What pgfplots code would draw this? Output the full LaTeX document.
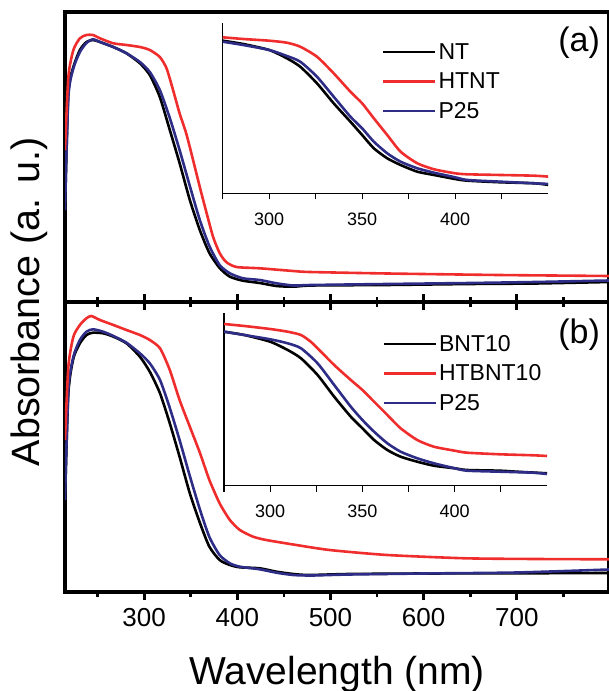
\documentclass[border=0pt]{standalone}
\usepackage{pgfplots}
\pgfplotsset{compat=1.18}
\usepackage{fontspec}
\setmainfont{Liberation Sans}
\definecolor{cred}{RGB}{240,45,45}
\definecolor{cblue}{RGB}{45,45,135}
\pgfplotsset{
  mainax/.style={scale only axis, width=544pt, height=290pt,
    xmin=215, xmax=799, ymin=0, ymax=290,
    ytick=\empty, axis line style={line width=3.2pt},
    xtick={300,400,500,600,700}, minor xtick={250,350,450,550,650,750},
    major tick length=16pt, minor tick length=10pt,
    every tick/.style={line width=2.8pt, black},
    /pgf/number format/assume math mode=true,
    tick label style={font=\fontsize{26}{28}\selectfont},
    clip mode=individual},
  inax/.style={scale only axis, xmin=275, xmax=450, ymin=0,
    axis x line*=bottom, axis y line*=left, ytick=\empty,
    axis line style={line width=1.1pt, -},
    xtick={300,350,400}, minor xtick={275,325,375,425},
    major tick length=6pt, minor tick length=6pt, tick align=outside,
    every tick/.style={line width=1.1pt, black},
    /pgf/number format/assume math mode=true,
    tick label style={font=\fontsize{18}{20}\selectfont},
    xticklabel style={yshift=-10pt},
    legend cell align=left,
    legend image code/.code={\draw[##1, line width=2.6pt] (0pt,0pt) -- (52pt,0pt);},
    legend style={draw=none, fill=none, inner sep=0pt, row sep=10pt,
      font=\fontsize{23}{26}\selectfont, anchor=north west,
      nodes={inner xsep=2pt, inner ysep=1pt}},
    clip mode=individual},
  cv/.style={line width=2.6pt, smooth, tension=0.4},
}
\begin{document}
\begin{tikzpicture}
% ---------------- panel (b) ----------------
\begin{axis}[mainax, at={(65pt,99pt)}, anchor=south west,
  tick align=outside, xtick pos=bottom,
  major tick length=8pt, minor tick length=5pt,
  xticklabel style={yshift=-5pt},
  xlabel={Wavelength (nm)},
  xlabel style={font=\fontsize{39}{42}\selectfont, yshift=-22pt}]
\addplot[cv, black] coordinates {
(215,92) (218.6,198.7) (224,233.7) (231,248.7) (238,257) (245,259.3) (256,258.7) (267,255.3) (281,248.7) (295.4,235.3) (306,220.3) (317,198.7) (327.5,168.7) (338,135.3) (349,98.7) (360,68.7) (370,45.3) (381,32) (392,27) (402.7,24.7) (424,23.7) (442,20.3) (460,18) (477,17) (520,18) (600,18.5) (700,18.7) (799,19)};
\addplot[cv, cblue] coordinates {
(215,92) (218.6,202) (224,235.3) (231,252) (238,260.3) (245,262.7) (256,260.3) (267,256) (281,249.3) (295.4,238.7) (306,228.7) (317,212) (327.5,184) (338,152) (349,116) (360,82) (370,55) (381,37) (392,28.7) (402.7,25.3) (424,22.7) (442,19.3) (460,17) (480,16.5) (520,17.5) (600,18.5) (700,19.5) (799,22.5)};
\addplot[cv, cred] coordinates {
(215,152) (218.6,225.3) (224,255.3) (231,267) (238,273.7) (243.3,276) (252.5,272) (267,267) (281,262) (295.4,257) (306,252) (317,243.7) (327.5,222) (338,192) (349,165.3) (360,138.7) (370,112) (381,88.7) (392,72) (402.7,62) (417,55.3) (431,52) (460,47.5) (499,42) (561,37) (645,33.7) (720,33) (799,32.7)};
\node[font=\fontsize{34}{36}\selectfont] at (rel axis cs:0.945,0.886) {(b)};
\node[rotate=90, font=\fontsize{39.5}{42}\selectfont] at (rel axis cs:-0.066,1.0) {Absorbance (a. u.)};
\end{axis}
% ---------------- panel (a) ----------------
\begin{axis}[mainax, at={(65pt,389pt)}, anchor=south west,
  tick align=center, xtick pos=bottom, xticklabels={}]
\addplot[cv, black] coordinates {
(215,92) (218.6,209) (224,235) (231,252) (238,260) (245,262) (252.5,260) (266.8,255) (281,248.7) (295.4,238.7) (306,227) (316.8,205) (327.5,172) (338,139) (349,102) (359.7,72) (370,49) (381,34) (392,25.3) (406,21.3) (424,19) (442,16) (460,15.3) (480,16.5) (560,17) (650,18) (720,18.5) (799,20)};
\addplot[cv, cblue] coordinates {
(215,92) (218.6,205) (224,233.7) (231,250) (238,259) (245,262.7) (252.5,260) (266.8,255) (281,248.7) (295.4,240) (306,230) (316.8,212) (327.5,184) (338,152) (349,116) (359.7,82) (370,56) (381,37) (392,28.7) (406,23.7) (424,22) (442,18.7) (460,16.5) (480,17) (561,18) (650,19) (720,20) (799,21.5)};
\addplot[cv, cred] coordinates {
(215,152) (218.6,225) (224,252) (231,263.7) (238,267) (245,267) (252.5,263.7) (266.8,258.7) (281,257) (295.4,255) (306,252) (316.8,245) (324,233.7) (331,212) (338,188.7) (345,169) (352.5,142) (359.7,115) (367,89) (374,65) (381,49) (388,40) (399,35) (424,33.7) (460,31) (478,30) (561,28.5) (680,27) (799,26)};
\node[font=\fontsize{34}{36}\selectfont] at (rel axis cs:0.945,0.893) {(a)};
\end{axis}
% ---------------- inset (a) ----------------
\begin{axis}[inax, at={(222.7pt,497.7pt)}, anchor=south west,
  width=325.3pt, height=170.6pt, ymax=170.6,
  legend style={at={(rel axis cs:0.489,0.885)}}]
\addplot[cv, black] coordinates {
(275,152.6) (286,149.3) (300,143.3) (309.5,135) (316.7,126.6) (325.7,110) (334.7,90) (343.7,71.6) (350,58.3) (356.3,45) (363.5,35) (370.7,28.3) (379.7,21.6) (388.7,18.3) (400,14.3) (406.7,12.6) (424.6,11) (442.6,10) (450.7,8.3)};
\addlegendentry{NT}
\addplot[cv, cred] coordinates {
(275,156) (286,154.3) (300,152.6) (309.5,150.6) (316.7,146.6) (325.7,136.6) (334.7,120) (343.7,101.6) (350,90) (356.3,75) (363.5,58.3) (370.7,41.6) (379.7,30) (388.7,24) (400,20) (406.7,19) (424.6,18.3) (442.6,17.6) (450.7,16.6)};
\addlegendentry{HTNT}
\addplot[cv, cblue] coordinates {
(275,151.6) (286,148.3) (300,143.3) (309.5,137.3) (316.7,131.6) (325.7,116.6) (334.7,96.6) (343.7,76.6) (350,65) (356.3,51.6) (363.5,40) (370.7,31.6) (379.7,25) (388.7,20.6) (400,16) (406.7,13.3) (424.6,11.6) (442.6,10) (450.7,9.3)};
\addlegendentry{P25}
\end{axis}
% ---------------- inset (b) ----------------
\begin{axis}[inax, at={(224pt,205.3pt)}, anchor=south west,
  width=323pt, height=172.4pt, ymax=172.4,
  legend style={at={(rel axis cs:0.49,0.88)}}]
\addplot[cv, black] coordinates {
(275,154) (286,150.7) (300,144) (309.5,135.7) (316.7,127.4) (325.7,110.7) (334.7,89) (343.7,69) (350,57.4) (356.3,45.7) (363.5,35.7) (370.7,29) (379.7,24) (388.7,20) (400,17.4) (406.7,15.7) (424.6,15) (433.6,14) (450,12.4)};
\addlegendentry{BNT10}
\addplot[cv, cred] coordinates {
(275,161.7) (286,159.7) (300,156.7) (309.5,154) (316.7,150.7) (322,144) (325.7,137.4) (334.7,120.7) (343.7,105.7) (350,95.7) (356.3,84) (363.5,70.7) (370.7,57.4) (379.7,45.7) (388.7,39) (400,35) (406.7,33) (424.6,31.4) (442.6,30.4) (450,29.7)};
\addlegendentry{HTBNT10}
\addplot[cv, cblue] coordinates {
(275,154) (286,150.7) (300,146.4) (309.5,142.4) (316.7,137.4) (325.7,122.4) (334.7,100.7) (343.7,79) (350,65.7) (356.3,54) (363.5,42.4) (370.7,34) (379.7,27.4) (388.7,22.4) (400,17.4) (406.7,15) (424.6,14) (442.6,13) (450,11.7)};
\addlegendentry{P25}
\end{axis}
\pgfresetboundingbox
\useasboundingbox (0pt,0pt) rectangle (609pt,691pt);
\end{tikzpicture}
\end{document}
